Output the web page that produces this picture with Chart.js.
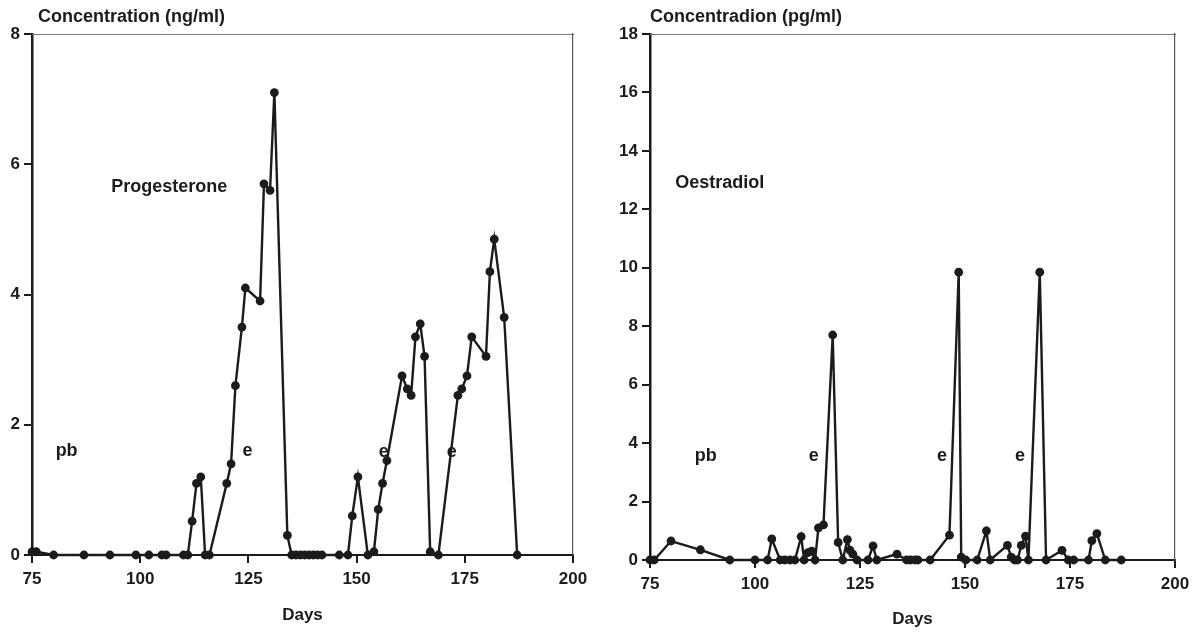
<!DOCTYPE html>
<html>
<head>
<meta charset="utf-8">
<script src="https://cdn.jsdelivr.net/npm/chart.js@4.4.1/dist/chart.umd.min.js"></script>
<style>
  html, body { margin: 0; padding: 0; background: #fff; }
  #wrap { position: relative; width: 1201px; height: 634px; overflow: hidden; }
  #left { position: absolute; left: 0; top: 0; }
  #right { position: absolute; left: 600px; top: 0; }
</style>
</head>
<body>
<div id="wrap">
  <canvas id="left" width="600" height="634"></canvas>
  <canvas id="right" width="601" height="634"></canvas>
</div>
<script>
// x axis (days) shared by both panels
const dayTicks = [75, 100, 125, 150, 175, 200];

// progesterone, ng/ml
const progDays = [75, 76, 80, 87, 93, 99, 102, 105, 106, 110,
  111, 112, 113, 114, 115, 116, 120, 121, 122, 123.5,
  124.3, 127.7, 128.6, 130, 131, 134, 135, 136, 137, 138,
  139, 140, 141, 142, 146, 148, 149, 150.3, 152.6, 154,
  155, 156, 157, 160.5, 161.7, 162.6, 163.6, 164.7, 165.7, 167,
  168.9, 173.4, 174.3, 175.5, 176.6, 179.9, 180.8, 181.8, 184.1, 187.1];
const progValues = [0.05, 0.05, 0, 0, 0, 0, 0, 0, 0, 0,
  0, 0.52, 1.1, 1.2, 0, 0, 1.1, 1.4, 2.6, 3.5,
  4.1, 3.9, 5.7, 5.6, 7.1, 0.3, 0, 0, 0, 0,
  0, 0, 0, 0, 0, 0, 0.6, 1.2, 0, 0.05,
  0.7, 1.1, 1.45, 2.75, 2.55, 2.45, 3.35, 3.55, 3.05, 0.05,
  0, 2.45, 2.55, 2.75, 3.35, 3.05, 4.35, 4.85, 3.65, 0];
const progTicks = [0, 2, 4, 6, 8];

// oestradiol, pg/ml
const oestDays = [75, 76, 80, 87, 94, 100, 103, 104, 106, 107.1,
  108.3, 109.5, 111, 111.7, 112.6, 113.5, 114.3, 115.1, 116.3, 118.5,
  119.8, 120.9, 122, 122.6, 123.3, 124.3, 126.9, 128.1, 129, 133.8,
  136.1, 137, 138.1, 138.8, 141.7, 146.3, 148.5, 149.1, 150.2, 152.9,
  155.1, 156, 160.1, 161, 161.8, 162.5, 163.4, 164.4, 165.1, 167.8,
  169.3, 173.1, 174.6, 175.9, 179.4, 180.2, 181.4, 183.4, 187.2];
const oestValues = [0, 0, 0.65, 0.35, 0, 0, 0, 0.72, 0, 0,
  0, 0, 0.8, 0, 0.25, 0.3, 0, 1.1, 1.2, 7.7,
  0.6, 0, 0.7, 0.34, 0.2, 0, 0, 0.48, 0, 0.2,
  0, 0, 0, 0, 0, 0.85, 9.85, 0.1, 0, 0,
  1.0, 0, 0.5, 0.1, 0, 0, 0.5, 0.82, 0, 9.85,
  0, 0.33, 0, 0, 0, 0.66, 0.9, 0, 0];
const oestTicks = [0, 2, 4, 6, 8, 10, 12, 14, 16, 18];

// text written inside the panels (data coordinates)
const progNotes = [
  { text: "Progesterone", x: 93.3, y: 5.65, align: "left" },
  { text: "pb", x: 83, y: 1.6 },
  { text: "e", x: 124.8, y: 1.6 },
  { text: "e", x: 156.3, y: 1.58 },
  { text: "e", x: 172, y: 1.58 }
];
const oestNotes = [
  { text: "Oestradiol", x: 81, y: 12.9, align: "left" },
  { text: "pb", x: 88.3, y: 3.55 },
  { text: "e", x: 114, y: 3.55 },
  { text: "e", x: 144.5, y: 3.55 },
  { text: "e", x: 163.1, y: 3.55 }
];

const ink = "#1b1b1b";
const FONT = '"Liberation Sans", Arial, sans-serif';

const notesPlugin = {
  id: "notes",
  afterDatasetsDraw(chart, args, opts) {
    const ctx = chart.ctx;
    const xs = chart.scales.x, ys = chart.scales.y;
    ctx.save();
    ctx.fillStyle = ink;
    ctx.font = "bold 18px " + FONT;
    ctx.textBaseline = "middle";
    opts.labels.forEach(n => {
      ctx.textAlign = n.align || "center";
      ctx.fillText(n.text, xs.getPixelForValue(n.x), ys.getPixelForValue(n.y));
    });
    ctx.textAlign = "left";
    ctx.fillText(opts.title, chart.chartArea.left + opts.titleDx, chart.chartArea.top - 17);
    ctx.restore();
  }
};

function makePanel(id, days, values, yTicks, notes, title, box) {
  const pts = days.map((d, i) => ({ x: d, y: values[i] }));
  return new Chart(document.getElementById(id), {
    type: "line",
    data: {
      datasets: [{
        data: pts,
        borderColor: ink,
        backgroundColor: ink,
        borderWidth: 2.4,
        pointRadius: 4.4,
        pointHoverRadius: 4.4,
        pointBorderWidth: 0,
        tension: 0,
        clip: false
      }]
    },
    options: {
      responsive: false,
      animation: false,
      layout: { padding: { top: box.top, right: box.right, left: 0, bottom: 0 } },
      plugins: {
        legend: { display: false },
        tooltip: { enabled: false },
        notes: { labels: notes, title: title, titleDx: box.titleDx }
      },
      scales: {
        x: {
          type: "linear",
          min: 75,
          max: 200,
          afterBuildTicks: s => { s.ticks = dayTicks.map(v => ({ value: v })); },
          afterFit: s => { s.height = box.xh; },
          border: { color: ink, width: 2 },
          grid: { drawOnChartArea: false, drawTicks: true, tickLength: 8, color: ink, lineWidth: 2 },
          ticks: { color: ink, padding: 6, font: { family: FONT, size: 17, weight: "bold" }, maxRotation: 0 },
          title: { display: true, text: "Days", color: ink, font: { family: FONT, size: 17, weight: "bold" }, padding: { top: 0, bottom: box.titlePad } }
        },
        y: {
          min: 0,
          max: yTicks[yTicks.length - 1],
          afterBuildTicks: s => { s.ticks = yTicks.map(v => ({ value: v })); },
          afterFit: s => { s.width = box.yw; },
          border: { color: ink, width: 2.5 },
          grid: { drawOnChartArea: false, drawTicks: true, tickLength: 8, color: ink, lineWidth: 2 },
          ticks: { color: ink, padding: 4, font: { family: FONT, size: 17, weight: "bold" } }
        },
        xTop: {
          type: "linear",
          position: "top",
          min: 75,
          max: 200,
          afterFit: s => { s.height = 0; },
          ticks: { display: false },
          grid: { display: false },
          border: { color: "#777", width: 1, dash: [14, 5] }
        },
        yRight: {
          position: "right",
          min: 0,
          max: 1,
          afterFit: s => { s.width = 0; },
          ticks: { display: false },
          grid: { display: false },
          border: { color: "#555", width: 1.2 }
        }
      }
    },
    plugins: [notesPlugin]
  });
}

makePanel("left", progDays, progValues, progTicks, progNotes, "Concentration (ng/ml)",
  { top: 34, right: 27, yw: 32, xh: 79, titlePad: 8, titleDx: 6 });
makePanel("right", oestDays, oestValues, oestTicks, oestNotes, "Concentradion (pg/ml)",
  { top: 34, right: 26, yw: 50, xh: 74, titlePad: 4, titleDx: 0 });
</script>
</body>
</html>
